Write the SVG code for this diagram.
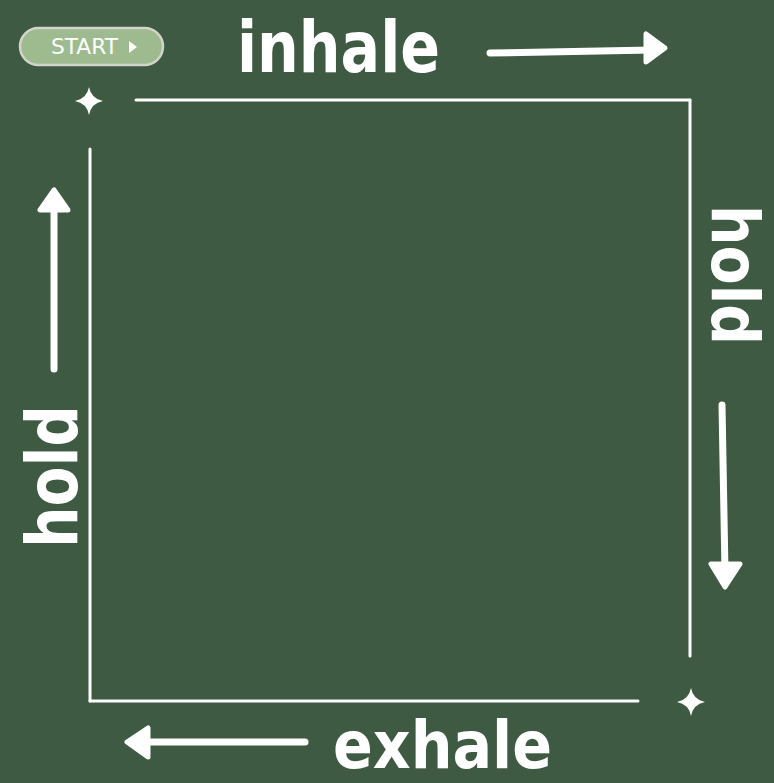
<svg xmlns="http://www.w3.org/2000/svg" width="774" height="783" viewBox="0 0 774 783">
<defs>
<style>
.big{font-family:"DejaVu Sans Condensed","DejaVu Sans",sans-serif;font-weight:bold;font-size:72px;fill:#fff}
.ln{stroke:#fff;stroke-width:3;stroke-linecap:round;fill:none}
.arr{stroke:#fff;stroke-width:7;stroke-linecap:round;fill:none}
.head{fill:#fff;stroke:#fff;stroke-width:5;stroke-linejoin:round}
.star{fill:#fff}
</style>
<path id="st" d="M0,-14 Q2.2,-2.2 14,0 Q2.2,2.2 0,14 Q-2.2,2.2 -14,0 Q-2.2,-2.2 0,-14Z"/>
</defs>
<rect width="774" height="783" fill="#3e5a42"/>
<g id="start">
<rect x="20" y="28" width="143" height="37" rx="18.5" fill="#9dbb8e" stroke="#d2d4cc" stroke-width="2.5"/>
<text x="51" y="54" font-family="'DejaVu Sans',sans-serif" font-size="21" fill="#fff" textLength="67" lengthAdjust="spacingAndGlyphs">START</text>
<path d="M129,41 L137,47 L129,53Z" fill="#fff"/>
</g>
<g id="connectors">
<line class="ln" x1="136" y1="100" x2="690" y2="100"/>
<line class="ln" x1="690" y1="100" x2="690" y2="656"/>
<line class="ln" x1="638" y1="701" x2="90" y2="701"/>
<line class="ln" x1="90" y1="701" x2="90" y2="149"/>
</g>
<g id="stars">
<use href="#st" class="star" x="89" y="101"/>
<use href="#st" class="star" x="691" y="702"/>
</g>
<g id="inhale">
<text class="big" x="237" y="72" textLength="203" lengthAdjust="spacingAndGlyphs">inhale</text>
<line class="arr" x1="490" y1="53" x2="652" y2="50"/>
<path class="head" d="M665,48 L646,34 L646,62Z"/>
</g>
<g id="hold-right">
<text class="big" style="font-size:66px" transform="translate(712,205) rotate(90)" x="0" y="0" textLength="140" lengthAdjust="spacingAndGlyphs">hold</text>
<line class="arr" x1="722" y1="405" x2="725" y2="572"/>
<path class="head" d="M725,587 L711,564 L740,564Z"/>
</g>
<g id="exhale">
<text class="big" style="font-size:66px" x="333" y="768" textLength="219" lengthAdjust="spacingAndGlyphs">exhale</text>
<line class="arr" x1="305" y1="742" x2="140" y2="742"/>
<path class="head" d="M127,742 L148,728 L148,757Z"/>
</g>
<g id="hold-left">
<text class="big" transform="translate(77,548) rotate(-90)" x="0" y="0" textLength="143" lengthAdjust="spacingAndGlyphs">hold</text>
<line class="arr" x1="54" y1="369" x2="54" y2="202"/>
<path class="head" d="M54,190 L40,210 L68,210Z"/>
</g>
</svg>
